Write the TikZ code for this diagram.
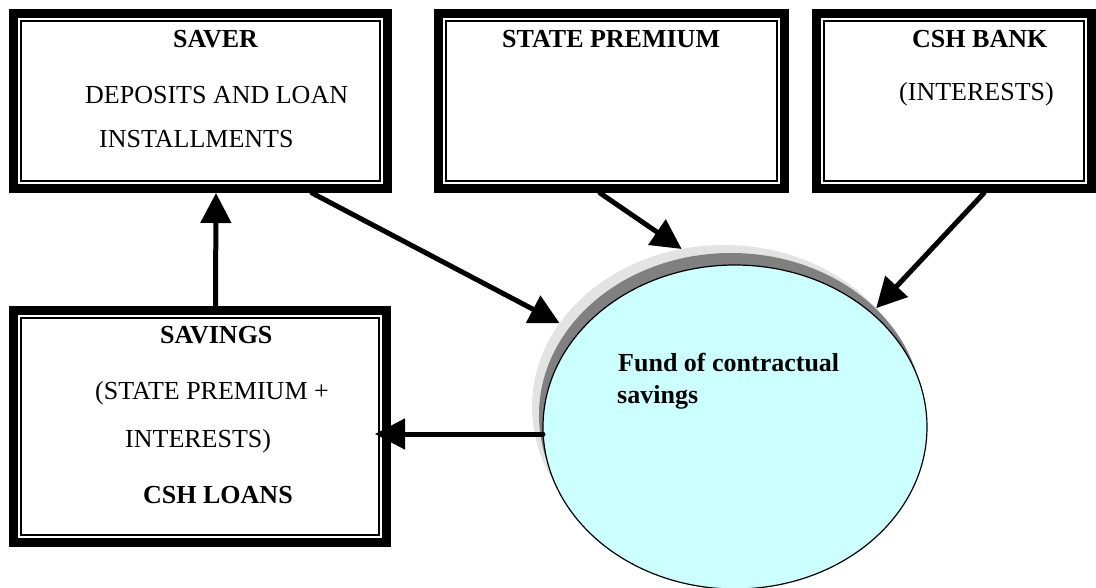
\documentclass[tikz,border=0pt]{standalone}
\usepackage{fontspec}
\setmainfont{Liberation Serif}
\usetikzlibrary{arrows.meta,shapes.geometric}
\definecolor{fundfill}{HTML}{CCFFFF}
\definecolor{shadowdark}{HTML}{808080}
\definecolor{shadowlight}{HTML}{E3E3E3}
\begin{document}
\begin{tikzpicture}[x=1pt,y=-1pt,
  frame/.style={draw=black, rectangle, line width=9pt, inner sep=0pt, outer sep=4.5pt},
  innerline/.style={draw=black, line width=1.5pt},
  txt/.style={anchor=base west, inner sep=0pt, font=\fontsize{26}{30}\selectfont},
  ttl/.style={anchor=base west, inner sep=0pt, font=\fontsize{26}{30}\selectfont\bfseries},
  oval/.style={ellipse, inner sep=0pt, outer sep=0pt, minimum width=384pt, minimum height=324pt},
  arr/.style={line width=5pt, line cap=round, -{Triangle[length=30pt,width=30pt]}}
]
\useasboundingbox (0,0) rectangle (1096,587);

% boxes
\node[frame, minimum width=374pt, minimum height=175pt] (saver) at (200.5,101) {};
\node[frame, minimum width=346pt, minimum height=175pt] (state) at (611.5,101) {};
\node[frame, minimum width=275pt, minimum height=175pt] (bank) at (954,101) {};
\node[frame, minimum width=373pt, minimum height=232pt] (savings) at (200,426.5) {};

\foreach \b in {saver,state,bank,savings}{
  \draw[innerline] ([shift={(12,12)}]\b.north west) rectangle ([shift={(-12,-12)}]\b.south east);
}

% texts
\node[ttl] (t1) at (173,47) {SAVER};
\node[txt] (t2) at (85,103) {DEPOSITS AND LOAN};
\node[txt] (t3) at (99,147) {INSTALLMENTS};
\node[ttl] (t4) at (502,47) {STATE PREMIUM};
\node[ttl] (t5) at (912,47) {CSH BANK};
\node[txt] (t6) at (899,100) {(INTERESTS)};
\node[ttl] (t7) at (160,343) {SAVINGS};
\node[txt] (t8) at (95,399) {(STATE PREMIUM +};
\node[txt] (t9) at (125,447) {INTERESTS)};
\node[ttl] (t10) at (143,503) {CSH LOANS};

% fund ellipse with shadow
\node[oval, fill=shadowlight] (halo) at (724,407) {};
\node[oval, fill=shadowdark] (shade) at (731,415) {};
\node[oval, draw=black, line width=1.2pt, fill=fundfill] (fund) at (735,427) {};
\node[ttl] (f1) at (618,371) {Fund of contractual};
\node[ttl] (f2) at (617,403) {savings};

% arrows
\draw[arr] ([xshift=15.5pt]savings.north) -- ([xshift=15.5pt]saver.south);
\draw[arr] ([xshift=111.5pt]saver.south) -- (halo.153);
\draw[arr] ([xshift=-11.5pt]state.south) -- (halo.105.6);
\draw[arr] ([xshift=30pt]bank.south) -- (halo.33.9);
\draw[arr] ([yshift=-7pt]fund.west) -- ([xshift=-16pt,yshift=-7.5pt]savings.east);
\end{tikzpicture}
\end{document}
